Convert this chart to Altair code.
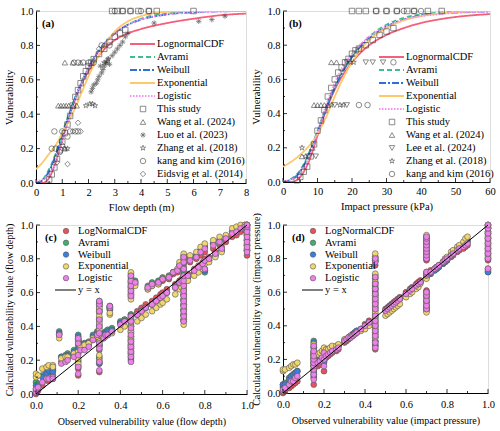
import altair as alt
import pandas as pd

FONT = "Liberation Serif"

# ---------------- panel (a): vulnerability vs flow depth ----------------
depth_grid = [0, 0.25, 0.5, 0.75, 1, 1.25, 1.5, 1.75, 2, 2.5, 3, 3.5, 4, 5, 6, 7, 8]
depth_lognormal = [0, 0.0, 0.03, 0.12, 0.25, 0.38, 0.49, 0.58, 0.65, 0.76, 0.83, 0.87, 0.895, 0.93, 0.955, 0.975, 0.985]
depth_avrami = [0, 0.02, 0.08, 0.17, 0.29, 0.40, 0.50, 0.59, 0.67, 0.79, 0.87, 0.92, 0.955, 0.985, 0.996, 1.0, 1.0]
depth_weibull = [0, 0.015, 0.07, 0.16, 0.28, 0.39, 0.50, 0.59, 0.67, 0.79, 0.87, 0.92, 0.95, 0.98, 0.993, 0.998, 1.0]
depth_exponential = [0.08, 0.12, 0.17, 0.22, 0.29, 0.36, 0.44, 0.53, 0.62, 0.77, 0.88, 0.94, 0.97, 0.995, 1.0, 1.0, 1.0]
depth_logistic = [0.01, 0.02, 0.05, 0.12, 0.24, 0.37, 0.49, 0.59, 0.67, 0.79, 0.87, 0.92, 0.95, 0.98, 0.99, 0.997, 1.0]

a_this_x = [0.5, 0.6, 0.7, 0.8, 0.9, 1.0, 1.1, 1.2, 1.3, 1.4, 1.5, 1.6, 1.7, 1.8, 1.9, 2.0, 2.1, 2.2, 2.4, 2.6,
            2.8, 3.0, 3.2, 3.4, 2.9, 3.1, 3.3, 3.6, 3.9, 4.3, 4.6, 6.0]
a_this_y = [0.02, 0.05, 0.09, 0.14, 0.19, 0.24, 0.29, 0.34, 0.39, 0.45, 0.50, 0.54, 0.58, 0.62, 0.65, 0.68, 0.70, 0.72, 0.75, 0.78,
            0.82, 0.85, 0.87, 0.89, 1.0, 1.0, 1.0, 1.0, 1.0, 1.0, 1.0, 1.0]
a_wang_x = [0.85, 0.95, 1.05, 1.15, 1.25, 1.4, 1.55, 1.1, 1.4, 1.7, 1.1]
a_wang_y = [0.45, 0.45, 0.45, 0.45, 0.45, 0.45, 0.45, 0.7, 0.7, 0.7, 0.2]
a_luo_x = [2.1, 2.15, 2.2, 2.3, 2.35, 2.4, 2.45, 2.5, 2.55, 2.6, 2.65, 2.7, 2.75, 2.8, 2.9, 3.0, 3.1, 3.2, 3.3, 3.4,
           3.5, 4.5, 6.2, 6.7, 7.2]
a_luo_y = [0.53, 0.55, 0.57, 0.58, 0.60, 0.62, 0.68, 0.64, 0.66, 0.68, 0.70, 0.70, 0.72, 0.69, 0.74, 0.76, 0.78, 0.80, 0.82, 0.85,
           0.87, 0.93, 0.94, 0.95, 0.97]
a_zhang_x = [1.9, 2.05, 2.15, 2.25, 1.1, 1.2, 2.6, 2.75]
a_zhang_y = [0.45, 0.46, 0.46, 0.45, 0.2, 0.2, 0.7, 0.72]
a_kang_x = [0.6, 0.7, 0.75, 0.9, 1.0, 1.2, 1.3, 1.5, 1.6, 1.45, 1.6, 1.8, 2.0, 2.2, 2.5, 2.8, 3.0, 3.3, 3.6, 4.0, 4.3]
a_kang_y = [0.2, 0.3, 0.2, 0.18, 0.3, 0.27, 0.3, 0.3, 0.3, 0.7, 0.7, 0.7, 0.7, 0.7, 0.8, 0.8, 1.0, 1.0, 1.0, 1.0, 1.0]
a_eids_x = [0.8, 1.0, 1.2, 1.4, 1.6, 1.7, 2.4, 2.6]
a_eids_y = [0.12, 0.22, 0.11, 0.30, 0.35, 0.30, 0.78, 0.80]

# ---------------- panel (b): vulnerability vs impact pressure ----------------
press_grid = [0, 2.5, 5, 7.5, 10, 12.5, 15, 17.5, 20, 25, 30, 35, 40, 45, 50, 55, 60]
press_lognormal = [0, 0.0, 0.03, 0.12, 0.27, 0.42, 0.54, 0.63, 0.70, 0.80, 0.86, 0.90, 0.93, 0.95, 0.965, 0.975, 0.982]
press_avrami = [0, 0.02, 0.07, 0.17, 0.30, 0.44, 0.56, 0.66, 0.74, 0.85, 0.92, 0.96, 0.98, 0.99, 0.996, 1.0, 1.0]
press_weibull = [0, 0.015, 0.06, 0.16, 0.29, 0.43, 0.55, 0.65, 0.73, 0.84, 0.91, 0.95, 0.975, 0.985, 0.99, 0.995, 0.997]
press_exponential = [0.09, 0.12, 0.16, 0.21, 0.28, 0.38, 0.50, 0.61, 0.70, 0.83, 0.90, 0.945, 0.97, 0.985, 0.993, 0.997, 1.0]
press_logistic = [0.005, 0.015, 0.05, 0.14, 0.29, 0.45, 0.58, 0.68, 0.75, 0.85, 0.91, 0.95, 0.97, 0.98, 0.99, 0.993, 0.995]

b_this_x = [4, 5, 6, 7, 8, 9, 10, 11, 12, 13, 14, 15, 16, 17, 18, 19, 20, 21, 22, 24, 26, 28, 30, 32,
            20, 22, 24, 27, 30, 33, 36, 38, 42, 46]
b_this_y = [0.01, 0.03, 0.06, 0.09, 0.15, 0.22, 0.30, 0.36, 0.42, 0.50, 0.55, 0.60, 0.64, 0.67, 0.70, 0.72, 0.75, 0.77, 0.78, 0.80, 0.83, 0.86, 0.88, 0.90,
            1.0, 1.0, 1.0, 1.0, 1.0, 1.0, 1.0, 1.0, 1.0, 1.0]
b_wang_x = [9, 10, 11, 12, 13, 14, 15.5, 8.5, 5.5]
b_wang_y = [0.45, 0.45, 0.45, 0.45, 0.45, 0.7, 0.7, 0.2, 0.15]
b_lee_x = [15, 18.5, 18.5, 24, 26, 29, 7.5, 9.5]
b_lee_y = [0.45, 0.45, 0.7, 0.7, 0.7, 0.7, 0.15, 0.15]
b_zhang_x = [14, 16.5, 17.5, 19.5, 20.5, 5.5, 6.5]
b_zhang_y = [0.45, 0.45, 0.45, 0.7, 0.7, 0.2, 0.15]
b_kang_x = [22, 24.5, 32, 27, 30, 33, 35, 38, 40]
b_kang_y = [0.45, 0.45, 0.7, 1.0, 1.0, 1.0, 1.0, 1.0, 1.0]

# ---------------- panel (c): observed vs calculated, flow depth ----------------
c_obs = ([0.00, 0.00, 0.01, 0.03, 0.05, 0.06, 0.08, 0.08]
         + [0.11, 0.12, 0.14, 0.15, 0.18, 0.20, 0.20, 0.20, 0.20, 0.20]
         + [0.21, 0.23, 0.25, 0.27, 0.29, 0.30, 0.30, 0.30, 0.30, 0.30, 0.30, 0.30, 0.30, 0.30, 0.30]
         + [0.32, 0.33, 0.34, 0.35, 0.35, 0.36, 0.40, 0.42]
         + [0.45] * 14
         + [0.47, 0.48, 0.50, 0.52, 0.53, 0.55, 0.55, 0.57, 0.58, 0.59, 0.60, 0.60, 0.62, 0.63]
         + [0.65, 0.66, 0.67, 0.68, 0.68, 0.69]
         + [0.70] * 13
         + [0.72, 0.73, 0.75, 0.76, 0.77, 0.78, 0.79, 0.80, 0.80, 0.80, 0.82, 0.84, 0.85, 0.87, 0.88, 0.90]
         + [0.93, 0.95, 0.97, 0.99, 1.00, 1.00, 1.00, 1.00, 1.00, 1.00, 1.00])
c_lognormal = ([0.00, 0.01, 0.02, 0.05, 0.08, 0.08, 0.09, 0.11]
               + [0.35, 0.19, 0.20, 0.21, 0.24, 0.11, 0.15, 0.29, 0.32, 0.24]
               + [0.27, 0.27, 0.29, 0.32, 0.34, 0.13, 0.18, 0.26, 0.29, 0.39, 0.43, 0.48, 0.52, 0.54, 0.35]
               + [0.34, 0.35, 0.36, 0.50, 0.52, 0.37, 0.42, 0.44]
               + [0.20, 0.23, 0.26, 0.29, 0.32, 0.36, 0.40, 0.44, 0.47, 0.57, 0.60, 0.63, 0.66, 0.69]
               + [0.65, 0.49, 0.51, 0.53, 0.62, 0.55, 0.64, 0.57, 0.65, 0.59, 0.60, 0.67, 0.62, 0.68]
               + [0.71, 0.65, 0.72, 0.67, 0.75, 0.68]
               + [0.44, 0.47, 0.50, 0.53, 0.56, 0.59, 0.62, 0.65, 0.68, 0.71, 0.74, 0.77, 0.80]
               + [0.71, 0.78, 0.74, 0.80, 0.76, 0.82, 0.78, 0.73, 0.80, 0.84, 0.81, 0.86, 0.84, 0.88, 0.87, 0.90]
               + [0.93, 0.94, 0.96, 0.97, 0.82, 0.85, 0.88, 0.91, 0.94, 0.97, 0.98])
c_avrami = ([0.03, 0.07, 0.06, 0.11, 0.13, 0.13, 0.15, 0.14]
            + [0.37, 0.22, 0.23, 0.24, 0.26, 0.17, 0.20, 0.33, 0.35, 0.27]
            + [0.30, 0.30, 0.31, 0.35, 0.37, 0.19, 0.22, 0.29, 0.32, 0.41, 0.45, 0.50, 0.53, 0.55, 0.37]
            + [0.36, 0.37, 0.38, 0.51, 0.52, 0.39, 0.43, 0.44]
            + [0.22, 0.25, 0.28, 0.31, 0.34, 0.38, 0.41, 0.45, 0.47, 0.59, 0.62, 0.65, 0.68, 0.71]
            + [0.67, 0.47, 0.49, 0.51, 0.64, 0.53, 0.66, 0.55, 0.67, 0.57, 0.58, 0.69, 0.60, 0.70]
            + [0.72, 0.63, 0.73, 0.66, 0.76, 0.67]
            + [0.44, 0.47, 0.50, 0.53, 0.56, 0.59, 0.62, 0.65, 0.68, 0.71, 0.75, 0.79, 0.82]
            + [0.69, 0.80, 0.72, 0.82, 0.74, 0.85, 0.76, 0.72, 0.78, 0.87, 0.79, 0.89, 0.82, 0.91, 0.85, 0.93]
            + [0.96, 0.97, 0.99, 1.00, 0.85, 0.88, 0.91, 0.94, 0.97, 1.00, 1.00])
c_weibull = ([0.02, 0.05, 0.05, 0.10, 0.12, 0.14, 0.14, 0.13]
             + [0.36, 0.22, 0.22, 0.23, 0.25, 0.16, 0.19, 0.32, 0.34, 0.26]
             + [0.29, 0.30, 0.30, 0.34, 0.36, 0.18, 0.21, 0.28, 0.31, 0.40, 0.44, 0.49, 0.52, 0.54, 0.36]
             + [0.35, 0.36, 0.37, 0.50, 0.51, 0.38, 0.42, 0.43]
             + [0.21, 0.24, 0.27, 0.30, 0.33, 0.37, 0.40, 0.44, 0.46, 0.58, 0.61, 0.64, 0.67, 0.70]
             + [0.66, 0.47, 0.49, 0.51, 0.63, 0.53, 0.65, 0.55, 0.66, 0.57, 0.58, 0.68, 0.60, 0.69]
             + [0.72, 0.63, 0.73, 0.66, 0.76, 0.67]
             + [0.43, 0.46, 0.49, 0.52, 0.55, 0.58, 0.61, 0.64, 0.67, 0.70, 0.74, 0.78, 0.81]
             + [0.69, 0.80, 0.72, 0.82, 0.74, 0.85, 0.76, 0.73, 0.78, 0.87, 0.79, 0.89, 0.82, 0.91, 0.85, 0.93]
             + [0.96, 0.97, 0.99, 1.00, 0.85, 0.88, 0.91, 0.94, 0.97, 0.99, 1.00])
c_exponential = ([0.10, 0.12, 0.11, 0.15, 0.16, 0.17, 0.17, 0.16]
                 + [0.33, 0.21, 0.22, 0.22, 0.24, 0.18, 0.21, 0.31, 0.32, 0.25]
                 + [0.28, 0.29, 0.30, 0.33, 0.34, 0.20, 0.23, 0.29, 0.31, 0.38, 0.42, 0.46, 0.49, 0.51, 0.35]
                 + [0.33, 0.34, 0.35, 0.47, 0.48, 0.36, 0.38, 0.40]
                 + [0.24, 0.27, 0.29, 0.32, 0.34, 0.37, 0.40, 0.43, 0.45, 0.56, 0.59, 0.63, 0.66, 0.72]
                 + [0.64, 0.43, 0.45, 0.47, 0.62, 0.49, 0.64, 0.51, 0.65, 0.53, 0.54, 0.68, 0.56, 0.69]
                 + [0.72, 0.59, 0.74, 0.62, 0.78, 0.63]
                 + [0.41, 0.44, 0.47, 0.50, 0.53, 0.56, 0.59, 0.62, 0.65, 0.69, 0.74, 0.79, 0.83]
                 + [0.67, 0.82, 0.70, 0.84, 0.72, 0.87, 0.74, 0.74, 0.77, 0.89, 0.78, 0.91, 0.81, 0.93, 0.84, 0.94]
                 + [0.98, 0.99, 1.00, 1.00, 0.86, 0.89, 0.92, 0.95, 0.98, 1.00, 1.00])
c_logistic = ([0.01, 0.03, 0.04, 0.07, 0.09, 0.09, 0.10, 0.09]
              + [0.35, 0.18, 0.19, 0.20, 0.22, 0.12, 0.16, 0.30, 0.33, 0.23]
              + [0.26, 0.26, 0.28, 0.32, 0.35, 0.14, 0.19, 0.27, 0.30, 0.40, 0.44, 0.49, 0.53, 0.55, 0.36]
              + [0.33, 0.35, 0.35, 0.51, 0.52, 0.37, 0.41, 0.43]
              + [0.19, 0.22, 0.25, 0.28, 0.31, 0.35, 0.39, 0.43, 0.46, 0.58, 0.61, 0.64, 0.67, 0.70]
              + [0.66, 0.47, 0.49, 0.51, 0.63, 0.53, 0.65, 0.55, 0.66, 0.57, 0.58, 0.68, 0.60, 0.69]
              + [0.72, 0.63, 0.73, 0.66, 0.76, 0.67]
              + [0.43, 0.46, 0.49, 0.52, 0.55, 0.58, 0.61, 0.64, 0.67, 0.70, 0.74, 0.78, 0.81]
              + [0.70, 0.79, 0.73, 0.81, 0.75, 0.84, 0.77, 0.74, 0.79, 0.86, 0.80, 0.88, 0.83, 0.90, 0.86, 0.92]
              + [0.95, 0.96, 0.98, 0.99, 0.84, 0.87, 0.90, 0.93, 0.96, 0.99, 1.00])

# ---------------- panel (d): observed vs calculated, impact pressure ----------------
d_obs = ([0.00, 0.00, 0.01, 0.03, 0.04, 0.05, 0.06, 0.07]
         + [0.15] * 9
         + [0.17, 0.18, 0.19, 0.20, 0.20, 0.20, 0.21, 0.22, 0.23, 0.24, 0.26, 0.27]
         + [0.30, 0.31, 0.32, 0.33, 0.34, 0.35, 0.36, 0.38, 0.40, 0.42]
         + [0.45] * 16
         + [0.50, 0.51, 0.52, 0.53, 0.54, 0.55, 0.56, 0.57, 0.60, 0.62, 0.63, 0.65, 0.66, 0.67]
         + [0.70] * 16
         + [0.72, 0.74, 0.75, 0.76, 0.78, 0.79, 0.80, 0.82, 0.83, 0.85, 0.86, 0.88, 0.89, 0.90]
         + [1.00] * 9)
d_lognormal = ([0.00, 0.01, 0.01, 0.03, 0.04, 0.05, 0.06, 0.07]
               + [0.05, 0.09, 0.12, 0.14, 0.16, 0.18, 0.20, 0.23, 0.27]
               + [0.16, 0.17, 0.19, 0.13, 0.19, 0.23, 0.21, 0.22, 0.23, 0.24, 0.25, 0.26]
               + [0.30, 0.31, 0.32, 0.33, 0.34, 0.35, 0.36, 0.38, 0.41, 0.43]
               + [0.26, 0.29, 0.33, 0.36, 0.39, 0.42, 0.45, 0.49, 0.52, 0.55, 0.58, 0.61, 0.64, 0.68, 0.76, 0.79]
               + [0.50, 0.51, 0.52, 0.53, 0.54, 0.55, 0.56, 0.57, 0.60, 0.62, 0.63, 0.65, 0.66, 0.67]
               + [0.49, 0.51, 0.54, 0.57, 0.61, 0.70, 0.71, 0.79, 0.81, 0.83, 0.85, 0.87, 0.89, 0.91, 0.92, 0.72]
               + [0.73, 0.74, 0.75, 0.76, 0.77, 0.78, 0.79, 0.81, 0.82, 0.84, 0.85, 0.86, 0.87, 0.88]
               + [0.73, 0.79, 0.82, 0.85, 0.88, 0.91, 0.94, 0.96, 0.98])
d_avrami = ([0.04, 0.05, 0.06, 0.09, 0.10, 0.11, 0.12, 0.13]
            + [0.11, 0.14, 0.17, 0.19, 0.21, 0.23, 0.25, 0.28, 0.31]
            + [0.20, 0.21, 0.22, 0.19, 0.22, 0.26, 0.23, 0.24, 0.25, 0.26, 0.27, 0.28]
            + [0.31, 0.32, 0.33, 0.34, 0.35, 0.36, 0.37, 0.38, 0.40, 0.42]
            + [0.28, 0.31, 0.35, 0.38, 0.41, 0.44, 0.47, 0.51, 0.54, 0.57, 0.60, 0.63, 0.66, 0.70, 0.79, 0.81]
            + [0.49, 0.50, 0.51, 0.52, 0.53, 0.54, 0.55, 0.56, 0.59, 0.61, 0.62, 0.64, 0.65, 0.66]
            + [0.50, 0.52, 0.55, 0.58, 0.60, 0.69, 0.70, 0.80, 0.82, 0.84, 0.86, 0.88, 0.90, 0.92, 0.93, 0.71]
            + [0.71, 0.73, 0.74, 0.75, 0.77, 0.78, 0.79, 0.82, 0.83, 0.86, 0.87, 0.89, 0.90, 0.91]
            + [0.72, 0.80, 0.83, 0.86, 0.89, 0.92, 0.95, 0.98, 1.00])
d_weibull = ([0.03, 0.05, 0.05, 0.08, 0.10, 0.11, 0.12, 0.13]
             + [0.10, 0.13, 0.16, 0.18, 0.20, 0.22, 0.24, 0.27, 0.30]
             + [0.19, 0.20, 0.22, 0.18, 0.21, 0.25, 0.23, 0.24, 0.25, 0.26, 0.27, 0.28]
             + [0.31, 0.32, 0.33, 0.34, 0.35, 0.36, 0.37, 0.38, 0.40, 0.42]
             + [0.28, 0.31, 0.34, 0.37, 0.40, 0.43, 0.46, 0.50, 0.53, 0.56, 0.59, 0.62, 0.65, 0.69, 0.78, 0.80]
             + [0.49, 0.50, 0.51, 0.52, 0.53, 0.54, 0.55, 0.56, 0.59, 0.61, 0.62, 0.64, 0.65, 0.66]
             + [0.50, 0.52, 0.55, 0.58, 0.60, 0.69, 0.70, 0.80, 0.82, 0.84, 0.86, 0.88, 0.90, 0.92, 0.93, 0.71]
             + [0.71, 0.73, 0.74, 0.75, 0.77, 0.78, 0.79, 0.82, 0.83, 0.85, 0.86, 0.88, 0.89, 0.90]
             + [0.72, 0.80, 0.83, 0.86, 0.89, 0.92, 0.95, 0.98, 1.00])
d_exponential = ([0.13, 0.14, 0.14, 0.15, 0.16, 0.17, 0.17, 0.18]
                 + [0.16, 0.18, 0.20, 0.21, 0.22, 0.23, 0.24, 0.25, 0.29]
                 + [0.23, 0.24, 0.25, 0.22, 0.24, 0.27, 0.26, 0.26, 0.27, 0.28, 0.28, 0.29]
                 + [0.32, 0.32, 0.33, 0.34, 0.34, 0.35, 0.36, 0.37, 0.38, 0.40]
                 + [0.30, 0.33, 0.36, 0.38, 0.40, 0.42, 0.45, 0.48, 0.51, 0.54, 0.58, 0.62, 0.66, 0.71, 0.81, 0.83]
                 + [0.46, 0.47, 0.48, 0.49, 0.50, 0.51, 0.52, 0.53, 0.57, 0.59, 0.60, 0.62, 0.63, 0.65]
                 + [0.48, 0.50, 0.53, 0.56, 0.59, 0.68, 0.70, 0.81, 0.83, 0.85, 0.87, 0.89, 0.91, 0.93, 0.94, 0.71]
                 + [0.72, 0.74, 0.75, 0.76, 0.78, 0.80, 0.81, 0.84, 0.85, 0.87, 0.88, 0.90, 0.92, 0.93]
                 + [0.74, 0.81, 0.84, 0.87, 0.90, 0.93, 0.96, 0.99, 1.00])
d_logistic = ([0.01, 0.02, 0.03, 0.05, 0.07, 0.07, 0.09, 0.10]
              + [0.08, 0.11, 0.14, 0.16, 0.18, 0.20, 0.22, 0.25, 0.28]
              + [0.18, 0.19, 0.21, 0.16, 0.20, 0.24, 0.22, 0.23, 0.24, 0.25, 0.26, 0.27]
              + [0.31, 0.32, 0.33, 0.33, 0.34, 0.35, 0.36, 0.38, 0.40, 0.42]
              + [0.27, 0.30, 0.34, 0.37, 0.40, 0.43, 0.46, 0.50, 0.53, 0.56, 0.59, 0.62, 0.65, 0.69, 0.78, 0.80]
              + [0.49, 0.50, 0.51, 0.52, 0.53, 0.54, 0.55, 0.56, 0.59, 0.61, 0.62, 0.64, 0.65, 0.66]
              + [0.50, 0.52, 0.55, 0.58, 0.60, 0.70, 0.71, 0.80, 0.82, 0.84, 0.86, 0.88, 0.90, 0.92, 0.93, 0.72]
              + [0.72, 0.74, 0.75, 0.76, 0.78, 0.79, 0.80, 0.82, 0.83, 0.85, 0.86, 0.87, 0.88, 0.89]
              + [0.74, 0.80, 0.83, 0.86, 0.89, 0.92, 0.95, 0.98, 1.00])

# ---------------- styles ----------------
curve_names = ["LognormalCDF", "Avrami", "Weibull", "Exponential", "Logistic"]
curve_colors = ["#f4607a", "#3cbf8c", "#2f6fdc", "#fdc96a", "#f78ef2"]
curve_dashes = [[1, 0], [5, 3], [7, 2, 2, 2], [1, 0], [1.5, 1.5]]

fit_names = ["LogNormalCDF", "Avrami", "Weibull", "Exponential", "Logistic"]
fit_colors = ["#e9525a", "#3fae6e", "#3a7fe0", "#f2d66e", "#ee80ea"]

ASTERISK = "M-1,0L1,0M0,-1L0,1M-0.7,-0.7L0.7,0.7M-0.7,0.7L0.7,-0.7"
STAR = ("M0,-1L0.22,-0.31L0.95,-0.31L0.36,0.12L0.59,0.81L0,0.38L-0.59,0.81"
        "L-0.36,0.12L-0.95,-0.31L-0.22,-0.31Z")

TICK_SIZE = 10.5
TITLE_SIZE = 10.5
TEXT_SIZE = 10.5
UNIT = [0, 0.2, 0.4, 0.6, 0.8, 1.0]
UNIT_MINOR = [0.1, 0.3, 0.5, 0.7, 0.9]


def axis(values, fmt, lab_pad, title_pad, title_size):
    return alt.Axis(values=values, labelExpr=f"format(datum.value, '{fmt}')", ticks=False,
                    labelPadding=lab_pad, titlePadding=title_pad, labelFlush=False,
                    labelOverlap=False, labelFont=FONT, titleFont=FONT,
                    labelFontSize=TICK_SIZE, titleFontSize=title_size, titleFontWeight="normal",
                    labelColor="black", titleColor="black", domainColor="black", grid=False)


def enc(xdomain, xticks, xfmt, xtitle, ytitle, xlab_pad, xtitle_pad, ytitle_pad, title_size):
    x = alt.X("x:Q", scale=alt.Scale(domain=xdomain, nice=False, zero=False),
              axis=axis(xticks, xfmt, xlab_pad, xtitle_pad, title_size), title=xtitle)
    y = alt.Y("y:Q", scale=alt.Scale(domain=[0, 1], nice=False),
              axis=axis(UNIT, ".1f", 3, ytitle_pad, title_size), title=ytitle)
    return x, y


def inner_ticks(x, y, xmajor, xminor, ymajor, yminor, height):
    # short tick marks drawn inside the frame along the bottom and left edges;
    # they reuse the panel's own x / y encodings so the shared axes stay intact
    layers = []
    for vals, size in ((xmajor, 4), (xminor, 2)):
        df = pd.DataFrame({"x": vals})
        layers.append(alt.Chart(df).mark_rule(color="black", strokeWidth=0.8).encode(
            x=x, y=alt.value(height), y2=alt.value(height - size)))
    for vals, size in ((ymajor, 4), (yminor, 2)):
        df = pd.DataFrame({"y": vals})
        layers.append(alt.Chart(df).mark_rule(color="black", strokeWidth=0.8).encode(
            y=y, x=alt.value(0), x2=alt.value(size)))
    return layers


def text_layer(labels, xs, ys, size=TEXT_SIZE, weight="normal"):
    df = pd.DataFrame({"label": labels, "px": xs, "py": ys})
    return alt.Chart(df).mark_text(align="left", baseline="middle", font=FONT, fontSize=size,
                                   fontWeight=weight, color="black").encode(
        x=alt.X("px:Q", scale=None), y=alt.Y("py:Q", scale=None), text="label:N")


def curve_panel(grid, curves, groups, xdomain, xticks, xminor, xtitle, tag,
                width, height, leg_x, leg_y0):
    x, y = enc(xdomain, xticks, "d", xtitle, "Vulnerability", 4, 5, 5, TITLE_SIZE)
    layers = []
    for name, vals, col, dash in zip(curve_names, curves, curve_colors, curve_dashes):
        df = pd.DataFrame({"x": grid, "y": vals})
        layers.append(alt.Chart(df).mark_line(color=col, strokeDash=dash, strokeWidth=1.8,
                                              interpolate="monotone", clip=True).encode(x=x, y=y))
    for name, xs, ys, shape in groups:
        df = pd.DataFrame({"x": xs, "y": ys})
        layers.append(alt.Chart(df).mark_point(shape=shape, filled=False, color="#333333",
                                               size=30, strokeWidth=0.8).encode(x=x, y=y))
    layers += inner_ticks(x, y, xticks, xminor, UNIT, UNIT_MINOR, height)
    # legend: line samples, then symbols
    step = 13
    for i, (col, dash) in enumerate(zip(curve_colors, curve_dashes)):
        df = pd.DataFrame({"px": [leg_x], "px2": [leg_x + 25], "py": [leg_y0 + i * step]})
        layers.append(alt.Chart(df).mark_rule(color=col, strokeDash=dash, strokeWidth=1.8).encode(
            x=alt.X("px:Q", scale=None), x2="px2:Q", y=alt.Y("py:Q", scale=None)))
    for j, (name, xs, ys, shape) in enumerate(groups):
        df = pd.DataFrame({"px": [leg_x + 13], "py": [leg_y0 + (5 + j) * step]})
        layers.append(alt.Chart(df).mark_point(shape=shape, filled=False, color="#333333",
                                               size=30, strokeWidth=0.8).encode(
            x=alt.X("px:Q", scale=None), y=alt.Y("py:Q", scale=None)))
    labels = curve_names + [g[0] for g in groups]
    layers.append(text_layer(labels, [leg_x + 27] * len(labels),
                             [leg_y0 + k * step for k in range(len(labels))]))
    layers.append(text_layer([tag], [6], [13], weight="bold"))
    return alt.layer(*layers).properties(width=width, height=height)


def fit_panel(obs, fits, xtitle, ytitle, tag, width, height):
    x, y = enc([0, 1], UNIT, ".1f", xtitle, ytitle, 6, 6, 5, 10)
    layers = []
    for name, vals, col in zip(fit_names, fits, fit_colors):
        df = pd.DataFrame({"x": obs, "y": vals})
        layers.append(alt.Chart(df).mark_point(shape="circle", filled=True, fill=col, fillOpacity=1,
                                               stroke="#555555", strokeWidth=0.6, size=34,
                                               opacity=1).encode(x=x, y=y))
    diag = pd.DataFrame({"x": [0, 1], "y": [0, 1]})
    layers.append(alt.Chart(diag).mark_line(color="black", strokeWidth=1).encode(x=x, y=y))
    layers += inner_ticks(x, y, UNIT, UNIT_MINOR, UNIT, UNIT_MINOR, height)
    step = 11.8
    sym = pd.DataFrame({"px": [30] * 5, "py": [6 + i * step for i in range(5)], "c": fit_colors})
    layers.append(alt.Chart(sym).mark_point(shape="circle", filled=True, stroke="#555555",
                                            strokeWidth=0.6, size=30, opacity=1).encode(
        x=alt.X("px:Q", scale=None), y=alt.Y("py:Q", scale=None),
        fill=alt.Fill("c:N", scale=None)))
    line = pd.DataFrame({"px": [19], "px2": [40], "py": [6 + 5 * step]})
    layers.append(alt.Chart(line).mark_rule(color="black", strokeWidth=1).encode(
        x=alt.X("px:Q", scale=None), x2="px2:Q", y=alt.Y("py:Q", scale=None)))
    labels = fit_names + ["y = x"]
    layers.append(text_layer(labels, [42] * 6, [6 + k * step for k in range(6)]))
    layers.append(text_layer([tag], [9], [13], weight="bold"))
    return alt.layer(*layers).properties(width=width, height=height)


panel_a = curve_panel(
    depth_grid,
    [depth_lognormal, depth_avrami, depth_weibull, depth_exponential, depth_logistic],
    [("This study", a_this_x, a_this_y, "square"),
     ("Wang et al. (2024)", a_wang_x, a_wang_y, "triangle-up"),
     ("Luo et al. (2023)", a_luo_x, a_luo_y, ASTERISK),
     ("Zhang et al. (2018)", a_zhang_x, a_zhang_y, STAR),
     ("kang and kim (2016)", a_kang_x, a_kang_y, "circle"),
     ("Eidsvig et al. (2014)", a_eids_x, a_eids_y, "diamond")],
    [0, 8], list(range(0, 9)), [0.5 + k for k in range(8)], "Flow depth (m)", "(a)",
    210, 172, 94, 33)

panel_b = curve_panel(
    press_grid,
    [press_lognormal, press_avrami, press_weibull, press_exponential, press_logistic],
    [("This study", b_this_x, b_this_y, "square"),
     ("Wang et al. (2024)", b_wang_x, b_wang_y, "triangle-up"),
     ("Lee et al. (2024)", b_lee_x, b_lee_y, "triangle-down"),
     ("Zhang et al. (2018)", b_zhang_x, b_zhang_y, STAR),
     ("kang and kim (2016)", b_kang_x, b_kang_y, "circle")],
    [0, 60], list(range(0, 61, 10)), list(range(5, 60, 10)), "Impact pressure (kPa)", "(b)",
    207, 171, 96, 46)

panel_c = fit_panel(c_obs, [c_lognormal, c_avrami, c_weibull, c_exponential, c_logistic],
                    "Observed vulnerability value (flow depth)",
                    "Calculated vulnerability value (flow depth)", "(c)", 211, 169)
panel_d = fit_panel(d_obs, [d_lognormal, d_avrami, d_weibull, d_exponential, d_logistic],
                    "Observed vulnerability value (impact pressure)",
                    "Calculated vulnerability value (impact pressure)", "(d)", 205, 168)

# 2x2 grid laid out on the plot areas only, so long axis titles do not push panels apart
chart = alt.concat(
    panel_a, panel_b, panel_c, panel_d,
    columns=2,
    spacing=alt.RowColnumber(row=42, column=36),
    bounds="flush",
).properties(
    padding={"left": 4, "top": 5, "right": 0, "bottom": 0}
).configure_view(stroke="black", strokeWidth=1).configure(background="white")

chart.save("out.html", embed_options={"renderer": "svg", "actions": False})
